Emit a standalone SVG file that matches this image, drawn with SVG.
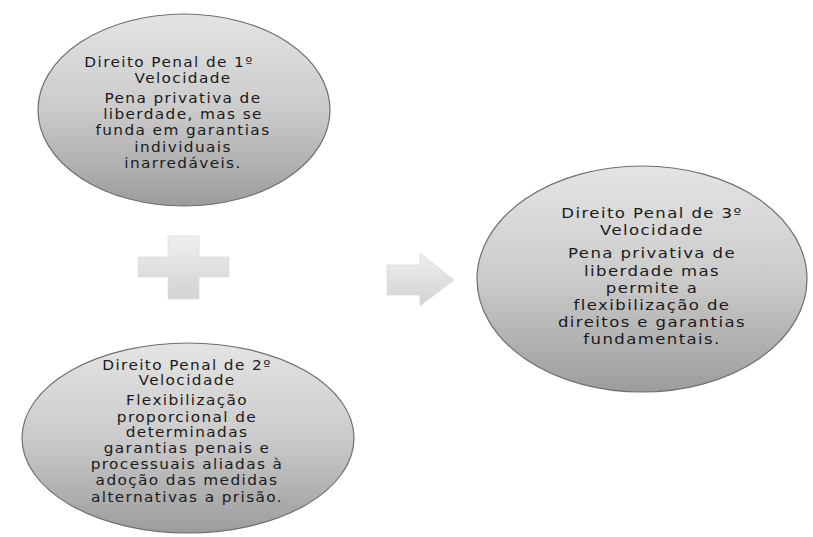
<svg xmlns="http://www.w3.org/2000/svg" width="813" height="537" viewBox="0 0 813 537">
<defs>
<linearGradient id="gEll" x1="0" y1="0" x2="0" y2="1">
<stop offset="0" stop-color="#e4e4e4"/>
<stop offset="0.5" stop-color="#cbcbcb"/>
<stop offset="1" stop-color="#9c9c9c"/>
</linearGradient>
<linearGradient id="gShape" x1="0" y1="0" x2="0" y2="1">
<stop offset="0" stop-color="#efefef"/>
<stop offset="1" stop-color="#d2d2d2"/>
</linearGradient>
</defs>
<style>
.ell{fill:url(#gEll);stroke:#6f6f6f;stroke-width:1.2}
.shp{fill:url(#gShape);stroke:#dcdcdc;stroke-width:0.8}
text{font-family:"DejaVu Sans","Liberation Sans",sans-serif;fill:#1a1a1a;text-anchor:middle;font-size:13.2px;letter-spacing:1.2px}
.big{font-size:14px}
</style>
<rect width="813" height="537" fill="#ffffff"/>
<g id="node1">
<ellipse class="ell" cx="184" cy="110" rx="146" ry="96"/>
<g transform="translate(183 0) scale(1.16 1)">
<text x="-12" y="67">Direito Penal de 1º</text>
<text x="0" y="83">Velocidade</text>
<text x="0" y="103">Pena privativa de</text>
<text x="0" y="119">liberdade, mas se</text>
<text x="0" y="135">funda em garantias</text>
<text x="0" y="152">individuais</text>
<text x="0" y="168">inarredáveis.</text>
</g>
</g>
<g id="node2">
<ellipse class="ell" cx="188" cy="438" rx="166" ry="95"/>
<g transform="translate(187 0) scale(1.16 1)">
<text x="0" y="370">Direito Penal de 2º</text>
<text x="0" y="385">Velocidade</text>
<text x="0" y="405">Flexibilização</text>
<text x="0" y="422">proporcional de</text>
<text x="0" y="437">determinadas</text>
<text x="0" y="453">garantias penais e</text>
<text x="0" y="469">processuais aliadas à</text>
<text x="0" y="485">adoção das medidas</text>
<text x="0" y="502">alternativas a prisão.</text>
</g>
</g>
<g id="node3">
<ellipse class="ell" cx="642" cy="279" rx="165" ry="113"/>
<g transform="translate(652 0) scale(1.18 1)">
<text class="big" x="0" y="218">Direito Penal de 3º</text>
<text class="big" x="0" y="235">Velocidade</text>
<text class="big" x="0" y="258">Pena privativa de</text>
<text class="big" x="0" y="276">liberdade mas</text>
<text class="big" x="0" y="293">permite a</text>
<text class="big" x="0" y="310">flexibilização de</text>
<text class="big" x="0" y="327">direitos e garantias</text>
<text class="big" x="0" y="344">fundamentais.</text>
</g>
</g>
<g id="connectors">
<path id="plus" class="shp" d="M168,236 H199 V257 H229 V277 H199 V299 H168 V277 H138 V257 H168 Z"/>
<path id="arrow" class="shp" d="M387,265 H420 V253 L454,280 L420,306 V295 H387 Z"/>
</g>
</svg>
